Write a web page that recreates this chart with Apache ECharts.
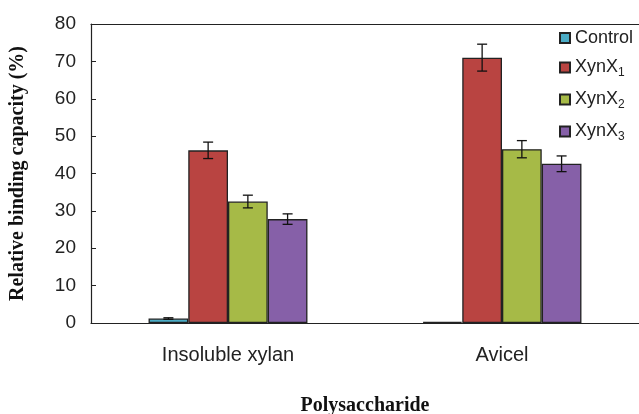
<!DOCTYPE html>
<html><head><meta charset="utf-8">
<script src="https://cdn.jsdelivr.net/npm/echarts@6/dist/echarts.min.js"></script>
<style>html,body{margin:0;padding:0;background:#fff}#c{width:639px;height:414px}</style>
</head><body><div id="c"></div>
<script>
const categories = ['Insoluble xylan', 'Avicel'];
const seriesNames = ['Control', 'XynX1', 'XynX2', 'XynX3'];
const controlVals = [1.2, 0.3];
const xynX1Vals = [46.2, 71.0];
const xynX2Vals = [32.5, 46.5];
const xynX3Vals = [27.8, 42.6];
const controlErr = [0.2, 0];
const xynX1Err = [2.2, 3.6];
const xynX2Err = [1.7, 2.3];
const xynX3Err = [1.4, 2.1];
const yTicks = [0, 10, 20, 30, 40, 50, 60, 70, 80];

const values = [controlVals, xynX1Vals, xynX2Vals, xynX3Vals];
const errs = [controlErr, xynX1Err, xynX2Err, xynX3Err];
const colors = ['#4bacc6', '#b94441', '#a6ba47', '#8660a8'];
const catGap = 0.42;

const chart = echarts.init(document.getElementById('c'), null, {renderer: 'canvas'});

function errSeries(si) {
  return {
    type: 'custom',
    name: seriesNames[si] + '_err',
    z: 10,
    silent: true,
    data: categories.map((c, i) => [i, values[si][i], errs[si][i]]),
    renderItem: function (params, api) {
      const ci = api.value(0), v = api.value(1), e = api.value(2);
      if (!e) return null;
      const bandW = api.size([1, 0])[0];
      const bw = bandW * (1 - catGap) / 4;
      const center = api.coord([ci, v]);
      const x = center[0] + (si - 1.5) * bw;
      const hi = api.coord([ci, v + e])[1];
      const lo = api.coord([ci, v - e])[1];
      const cap = 5;
      const st = {stroke: '#111', lineWidth: 1.3};
      return {type: 'group', children: [
        {type: 'line', shape: {x1: x, y1: hi, x2: x, y2: lo}, style: st},
        {type: 'line', shape: {x1: x - cap, y1: hi, x2: x + cap, y2: hi}, style: st},
        {type: 'line', shape: {x1: x - cap, y1: lo, x2: x + cap, y2: lo}, style: st}
      ]};
    }
  };
}

const barSeries = seriesNames.map((n, si) => ({
  type: 'bar',
  name: n,
  data: values[si],
  barGap: '0%',
  barCategoryGap: (catGap * 100) + '%',
  itemStyle: {color: colors[si], borderColor: '#222', borderWidth: 1.3},
  animation: false
}));

chart.setOption({
  animation: false,
  grid: {left: 91, right: 0, top: 24, bottom: 91, containLabel: false, outerBoundsMode: 'none'},
  legend: {
    data: seriesNames,
    orient: 'vertical',
    left: 559,
    top: 29,
    padding: 0,
    itemWidth: 10,
    itemHeight: 10,
    itemGap: 9,
    icon: 'rect',
    textStyle: {
      fontFamily: 'Liberation Sans', fontSize: 18, color: '#222',
      rich: {
        a: {fontFamily: 'Liberation Sans', fontSize: 18, color: '#222', lineHeight: 20},
        s: {fontFamily: 'Liberation Sans', fontSize: 12, color: '#222', padding: [11, 0, 0, 0], lineHeight: 20}
      }
    },
    formatter: function (name) {
      const m = name.match(/^(XynX)(\d)$/);
      return m ? '{a|' + m[1] + '}{s|' + m[2] + '}' : '{a|' + name + '}';
    }
  },
  xAxis: [{
    type: 'category',
    data: categories,
    name: 'Polysaccharide',
    nameLocation: 'middle',
    nameGap: 73,
    nameTextStyle: {fontFamily: 'Liberation Serif', fontWeight: 'bold', fontSize: 20, color: '#111'},
    axisLine: {lineStyle: {color: '#222', width: 1.2}},
    axisTick: {inside: true, length: 6, lineStyle: {color: '#222'}},
    axisLabel: {fontFamily: 'Liberation Sans', fontSize: 20, color: '#222', margin: 22}
  }, {
    type: 'category',
    position: 'top',
    data: categories,
    axisLine: {show: true, lineStyle: {color: '#222', width: 1.2}},
    axisTick: {show: false},
    axisLabel: {show: false}
  }],
  yAxis: {
    type: 'value',
    min: yTicks[0],
    max: yTicks[yTicks.length - 1],
    interval: yTicks[1] - yTicks[0],
    name: 'Relative binding capacity (%)',
    nameLocation: 'middle',
    nameGap: 63,
    nameTextStyle: {fontFamily: 'Liberation Serif', fontWeight: 'bold', fontSize: 20, color: '#111'},
    axisLine: {show: true, lineStyle: {color: '#222', width: 1.2}},
    axisTick: {show: true, inside: true, length: 5, lineStyle: {color: '#222'}},
    splitLine: {show: false},
    axisLabel: {fontFamily: 'Liberation Sans', fontSize: 19, color: '#222', margin: 15}
  },
  series: barSeries.concat(seriesNames.map((n, si) => errSeries(si)))
});
</script></body></html>
